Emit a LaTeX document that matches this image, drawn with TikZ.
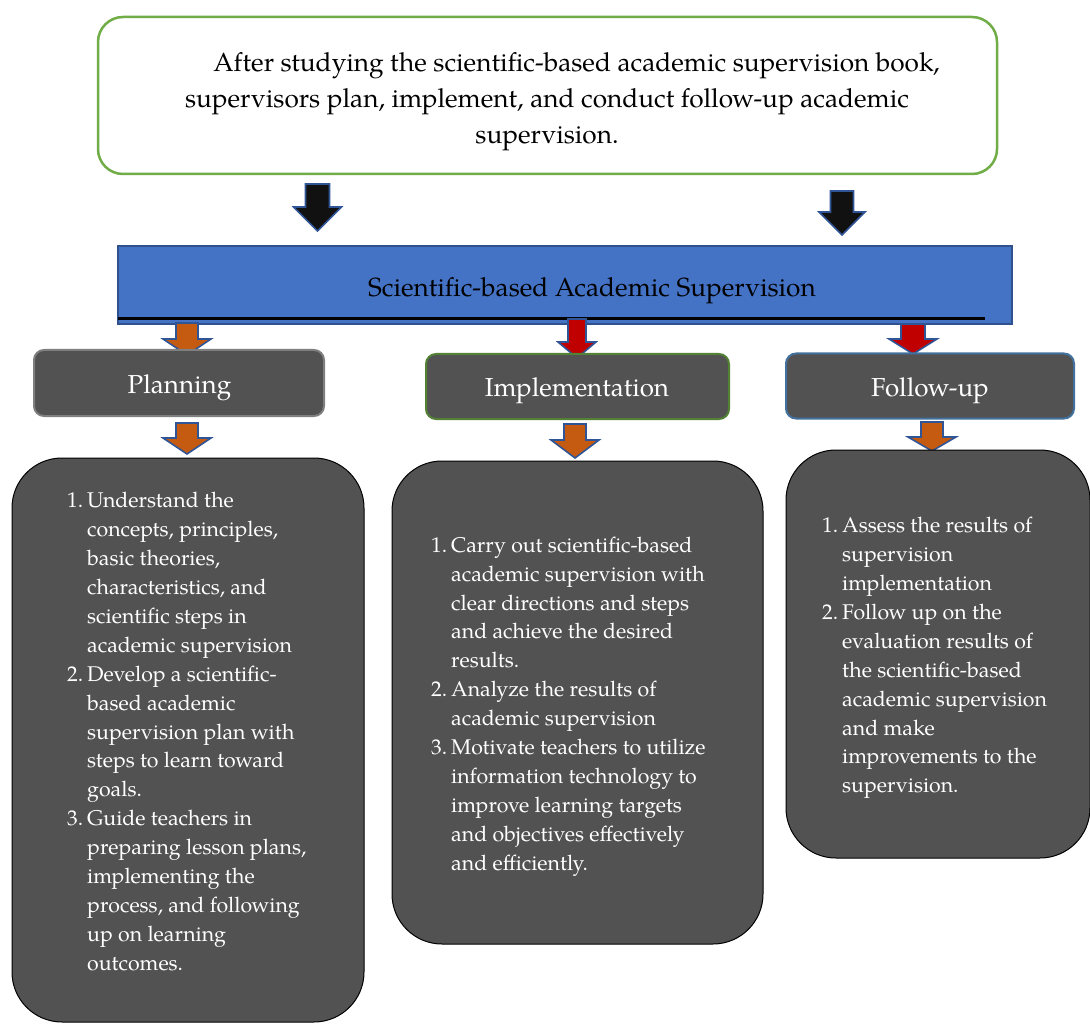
\documentclass[tikz,border=0pt]{standalone}
\usepackage{fontspec}
\setmainfont{TeX Gyre Pagella}
\definecolor{boxgray}{HTML}{525252}
\definecolor{topgreen}{HTML}{70AD47}
\definecolor{mainblue}{HTML}{4472C4}
\definecolor{blueedge}{HTML}{2F528F}
\definecolor{arrowedge}{HTML}{2F5597}
\definecolor{arrorange}{HTML}{C55A11}
\definecolor{arrred}{HTML}{C00000}
\definecolor{arrblack}{HTML}{111111}
\definecolor{plangray}{HTML}{7F7F7F}
\definecolor{implgreen}{HTML}{548235}
\definecolor{follblue}{HTML}{41719C}
\newcommand{\nm}[1]{\makebox[20pt][l]{#1}}
\newcommand{\ind}{\hspace*{20pt}}
\newcommand{\barrow}[7]{%
  \draw[blkarrow,fill=#1] ({#2-#6},#3) -- ({#2+#6},#3) -- ({#2+#6},#4) -- ({#2+#7},#4) -- (#2,#5) -- ({#2-#7},#4) -- ({#2-#6},#4) -- cycle;}
\tikzset{
  blkarrow/.style={draw=arrowedge, line width=1.6pt, line join=miter},
  label box/.style={rectangle, rounded corners=10pt, fill=boxgray, line width=2pt, inner sep=0pt},
  label text/.style={text=white, font=\fontsize{26}{30}\selectfont, inner sep=0pt},
  content box/.style={rectangle, rounded corners=50pt, fill=boxgray, draw=black, line width=1pt, inner sep=0pt},
  body/.style={align=left, text=white, inner sep=0pt, font=\fontsize{21.3}{28.9}\selectfont},
}
\begin{document}
\begin{tikzpicture}[x=1pt,y=-1pt]
\useasboundingbox (0,0) rectangle (1090,1024);
% top box
\node[rectangle, rounded corners=25pt, draw=topgreen, line width=2.5pt, fill=white,
      minimum width=899pt, minimum height=157pt, inner sep=0pt] (top) at (547.5,95.5) {};
\node[align=center, inner sep=0pt, font=\fontsize{26.2}{36}\selectfont] (toptext) at (547,102)
  {\hspace*{59pt}After studying the scientific-based academic supervision book,\\
   supervisors plan, implement, and conduct follow-up academic\\
   supervision.};
% black arrows
\barrow{arrblack}{317.5}{184}{207}{231}{12}{24}
\barrow{arrblack}{842}{191}{212}{235}{11.5}{23}
% main blue box
\node[rectangle, fill=mainblue, draw=blueedge, line width=1.2pt, minimum width=894pt,
      minimum height=78pt, inner sep=0pt] (sab) at (565,285) {};
\node[inner sep=0pt, font=\fontsize{26.2}{30}\selectfont] (sabtext) at (592,290.5)
  {Scientific-based Academic Supervision};
\coordinate (lineA) at (118,318.5);
\coordinate (lineB) at (985,318.5);
\draw[line width=3pt, black] (lineA) -- (lineB);
% arrows to level boxes
\barrow{arrorange}{187}{323}{339}{355}{11}{24}
\barrow{arrred}{577}{319}{342}{358}{9}{19}
\barrow{arrred}{913}{324}{339}{354}{12}{24}
% level boxes
\node[label box, draw=plangray, minimum width=290pt, minimum height=66pt] (plan) at (179,383) {};
\node[label text] (plant) at (179.5,388) {Planning};
\node[label box, draw=implgreen, minimum width=303pt, minimum height=65pt] (impl) at (577.5,386.5) {};
\node[label text] (implt) at (577,391) {Implementation};
\node[label box, draw=follblue, minimum width=288pt, minimum height=65pt] (foll) at (930,386) {};
\node[label text] (follt) at (930,391) {Follow-up};
% arrows to content boxes
\barrow{arrorange}{187}{423}{438}{454}{11}{24}
\barrow{arrorange}{575}{424}{440}{458}{11}{24}
\barrow{arrorange}{932}{422}{437}{451}{11}{24}
% content boxes
\node[content box, minimum width=352pt, minimum height=564pt] (c1) at (188,740) {};
\node[content box, minimum width=371pt, minimum height=483pt] (c2) at (577.5,702.5) {};
\node[content box, minimum width=304pt, minimum height=408pt] (c3) at (938,654) {};
\node[body, anchor=west] (c1t) at (67,731.5)
 {\nm{1.}Understand the\\
  \ind concepts, principles,\\
  \ind basic theories,\\
  \ind characteristics, and\\
  \ind scientific steps in\\
  \ind academic supervision\\
  \nm{2.}Develop a scientific-\\
  \ind based academic\\
  \ind supervision plan with\\
  \ind steps to learn toward\\
  \ind goals.\\
  \nm{3.}Guide teachers in\\
  \ind preparing lesson plans,\\
  \ind implementing the\\
  \ind process, and following\\
  \ind up on learning\\
  \ind outcomes.};
\node[body, anchor=west] (c2t) at (431,706.5)
 {\nm{1.}Carry out scientific-based\\
  \ind academic supervision with\\
  \ind clear directions and steps\\
  \ind and achieve the desired\\
  \ind results.\\
  \nm{2.}Analyze the results of\\
  \ind academic supervision\\
  \nm{3.}Motivate teachers to utilize\\
  \ind information technology to\\
  \ind improve learning targets\\
  \ind and objectives effectively\\
  \ind and efficiently.};
\node[body, anchor=west] (c3t) at (822,658)
 {\nm{1.}Assess the results of\\
  \ind supervision\\
  \ind implementation\\
  \nm{2.}Follow up on the\\
  \ind evaluation results of\\
  \ind the scientific-based\\
  \ind academic supervision\\
  \ind and make\\
  \ind improvements to the\\
  \ind supervision.};
\end{tikzpicture}
\end{document}
